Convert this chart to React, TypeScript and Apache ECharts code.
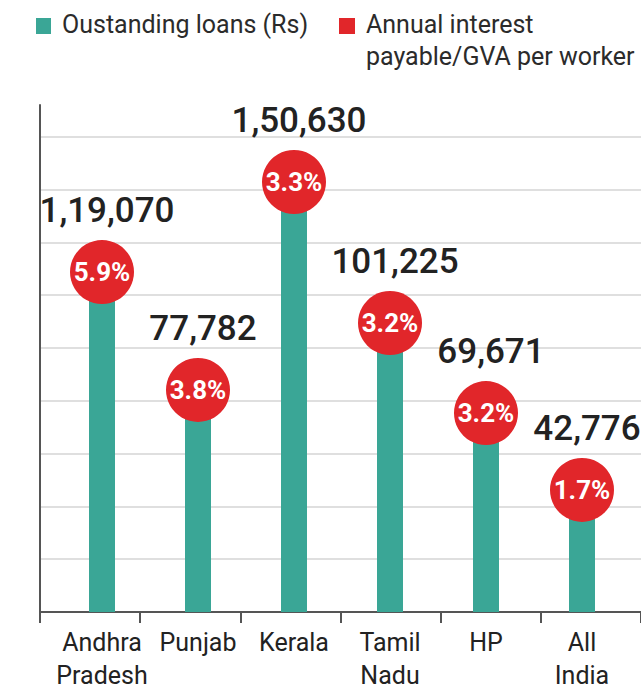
import React, { useEffect, useRef } from "react";
import * as echarts from "echarts";

const categories = ["Andhra\nPradesh", "Punjab", "Kerala", "Tamil\nNadu", "HP", "All\nIndia"];
const loans = [119070, 77782, 150630, 101225, 69671, 42776];
const loanLabels = ["1,19,070", "77,782", "1,50,630", "101,225", "69,671", "42,776"];
const interestPct = [5.9, 3.8, 3.3, 3.2, 3.2, 1.7];
const legendNames = ["Oustanding loans (Rs)", "Annual interest\npayable/GVA per worker"];

const TEAL = "#3aa696";
const RED = "#e1262a";
const FONT = "Roboto, 'Noto Sans', sans-serif";
const Y_MAX = 177600;
const Y_STEP = 18500;

export default function App() {
  const ref = useRef<HTMLDivElement>(null);
  useEffect(() => {
    if (!ref.current) return;
    const chart = echarts.init(ref.current, null, { renderer: "svg" });
    chart.setOption({
      animation: false,
      backgroundColor: "#ffffff",
      textStyle: { fontFamily: FONT },
      grid: [
        { left: 54, right: 11, top: 105, bottom: 88, containLabel: false },
        { left: 40, right: 0, top: 105, bottom: 88, containLabel: false },
      ],
      graphic: [
        { type: "rect", shape: { x: 36, y: 18, width: 15, height: 16 }, style: { fill: TEAL } },
        {
          type: "text",
          x: 62,
          y: 24,
          style: { text: legendNames[0], font: `25px ${FONT}`, fill: "#2b2b2b", verticalAlign: "middle" },
        },
        { type: "rect", shape: { x: 339, y: 18, width: 16, height: 16 }, style: { fill: RED } },
        {
          type: "text",
          x: 366,
          y: 8,
          style: {
            text: legendNames[1],
            font: `25px ${FONT}`,
            fill: "#2b2b2b",
            verticalAlign: "top",
            lineHeight: 32,
          },
        },
      ],
      xAxis: [
        {
          type: "category",
          gridIndex: 0,
          data: categories,
          boundaryGap: true,
          axisLine: { show: false },
          axisTick: { show: false },
          axisLabel: {
            interval: 0,
            fontSize: 25,
            lineHeight: 33,
            color: "#222",
            margin: 14,
            fontFamily: FONT,
          },
          z: 5,
        },
        {
          type: "category",
          gridIndex: 1,
          data: categories,
          boundaryGap: true,
          axisLine: { show: true, lineStyle: { color: "#555", width: 2 } },
          axisTick: { show: true, length: 11, lineStyle: { color: "#555", width: 2 } },
          axisLabel: { show: false },
        },
      ],
      yAxis: [
        {
          type: "value",
          gridIndex: 0,
          min: 0,
          max: Y_MAX,
          interval: Y_STEP,
          axisLine: { show: false },
          axisTick: { show: false },
          axisLabel: { show: false },
          splitLine: { show: false },
        },
        {
          type: "value",
          gridIndex: 1,
          min: 0,
          max: Y_MAX,
          interval: Y_STEP,
          axisLine: { show: true, lineStyle: { color: "#555", width: 2 } },
          axisTick: { show: false },
          axisLabel: { show: false },
          splitLine: { show: true, showMaxLine: false, lineStyle: { color: "#d4d4d4", width: 1.5 } },
        },
      ],
      series: [
        {
          type: "bar",
          name: legendNames[0],
          xAxisIndex: 0,
          yAxisIndex: 0,
          data: loans,
          barWidth: 26,
          itemStyle: { color: TEAL },
          label: {
            show: true,
            position: "top",
            distance: 44,
            offset: [5, 0],
            fontSize: 35,
            fontWeight: 500,
            color: "#222",
            fontFamily: FONT,
            formatter: (p: any) => loanLabels[p.dataIndex],
          },
          z: 2,
        },
        {
          type: "scatter",
          name: legendNames[1],
          xAxisIndex: 0,
          yAxisIndex: 0,
          data: loans,
          symbol: "circle",
          symbolSize: 64,
          itemStyle: { color: RED, opacity: 1 },
          label: {
            show: true,
            position: "inside",
            fontSize: 26,
            fontWeight: "bold",
            color: "#ffffff",
            fontFamily: FONT,
            formatter: (p: any) => `${interestPct[p.dataIndex].toFixed(1)}%`,
          },
          z: 3,
        },
      ],
    });
    return () => chart.dispose();
  }, []);
  return (
    <div
      ref={ref}
      style={{ position: "fixed", left: 0, top: 0, width: 641, height: 700, background: "#fff" }}
    />
  );
}
